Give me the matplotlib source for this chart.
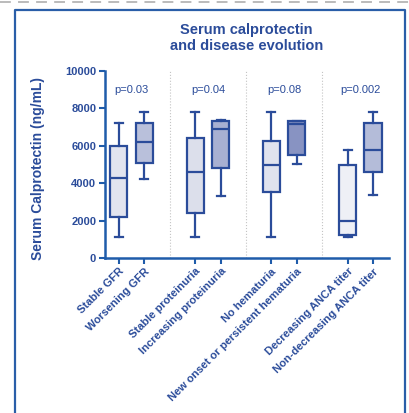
import matplotlib
matplotlib.use("Agg")
from matplotlib import pyplot as plt
from matplotlib.lines import Line2D

# box statistics (ng/mL)
labels = ["Stable GFR", "Worsening GFR",
          "Stable proteinuria", "Increasing proteinuria",
          "No hematuria", "New onset or persistent hematuria",
          "Decreasing ANCA titer", "Non-decreasing ANCA titer"]
whislo = [1100, 4200, 1100, 3300, 1100, 5050, 1100, 3350]
q1 = [2200, 5100, 2400, 4800, 3550, 5500, 1250, 4600]
med = [4300, 6200, 4600, 6900, 5000, 7150, 2000, 5750]
q3 = [6000, 7200, 6400, 7300, 6250, 7300, 4950, 7200]
whishi = [7200, 7800, 7800, 7400, 7800, 7300, 5800, 7800]
pvals = ["p=0.03", "p=0.04", "p=0.08", "p=0.002"]
yticks = [0, 2000, 4000, 6000, 8000, 10000]

positions = [0, 1, 3, 4, 6, 7, 9, 10]
fills = ["#e2e4ef", "#b9c0db", "#dcdfeb", "#a8b0d2",
         "#e0e3ee", "#8893c2", "#eef0f6", "#b4bcd9"]
edge = "#2b4c9a"
axis_blue = "#1f5caa"

plt.rcParams["font.family"] = ["Liberation Sans", "DejaVu Sans"]

W, H = 409, 413
fig = plt.figure(figsize=(W / 100, H / 100), dpi=100)

# frame and dashed line at top
fig.add_artist(Line2D([0, 1], [1 - 1.5 / H] * 2, color="#b5b5b5", lw=1.3,
                      dashes=(6, 4), transform=fig.transFigure))
fx = [15 / W, 15 / W, 405 / W, 405 / W]
fy = [-0.05, 1 - 9.5 / H, 1 - 9.5 / H, -0.05]
fig.add_artist(Line2D(fx, fy, color="#2a5ea8", lw=1.6,
                      transform=fig.transFigure, clip_on=False))

ax = fig.add_axes([104.5 / W, 1 - 258 / H, (389 - 104.5) / W, (258 - 71) / H])

stats = []
for i in range(len(labels)):
    stats.append(dict(label=labels[i], whislo=whislo[i], q1=q1[i], med=med[i],
                      q3=q3[i], whishi=whishi[i], fliers=[]))

bp = ax.bxp(stats, positions=positions, widths=0.67, capwidths=0.32,
            patch_artist=True, showfliers=False,
            boxprops=dict(edgecolor=edge, linewidth=1.6),
            medianprops=dict(color=edge, linewidth=1.6),
            whiskerprops=dict(color=edge, linewidth=1.6),
            capprops=dict(color=edge, linewidth=1.6))
for patch, c in zip(bp["boxes"], fills):
    patch.set_facecolor(c)

# dotted separators between groups
for x in [2, 5, 8]:
    ax.plot([x, x], [0, 10000], color="#c4c4c4", lw=0.8, ls=":", zorder=0)

for k, p in enumerate(pvals):
    cx = (positions[2 * k] + positions[2 * k + 1]) / 2
    ax.text(cx, 9000, p, ha="center", va="center", fontsize=8, color=edge)

ax.set_xlim(-0.57, 10.63)
ax.set_ylim(0, 10000)
ax.set_yticks(yticks)
ax.set_yticklabels([str(v) for v in yticks], fontsize=8,
                   fontweight="bold", color=edge)
ax.set_xticks(positions)
ax.set_xticklabels(labels, rotation=45, ha="right", rotation_mode="anchor",
                   fontsize=8, fontweight="bold", color=edge)

for s in ["top", "right"]:
    ax.spines[s].set_visible(False)
for s in ["left", "bottom"]:
    ax.spines[s].set_color(axis_blue)
    ax.spines[s].set_linewidth(1.8)
ax.tick_params(axis="both", colors=axis_blue, width=1.5, length=4, pad=2,
               labelcolor=edge)

fig.text(246.7 / W, 1 - 38 / H, "Serum calprotectin\nand disease evolution",
         ha="center", va="center", fontsize=10.5, fontweight="bold",
         color=edge, linespacing=1.15)
fig.text(38 / W, 1 - 169 / H, "Serum Calprotectin (ng/mL)", rotation=90,
         ha="center", va="center", fontsize=10, fontweight="bold", color=edge)

fig.savefig("out.png", dpi=100)
